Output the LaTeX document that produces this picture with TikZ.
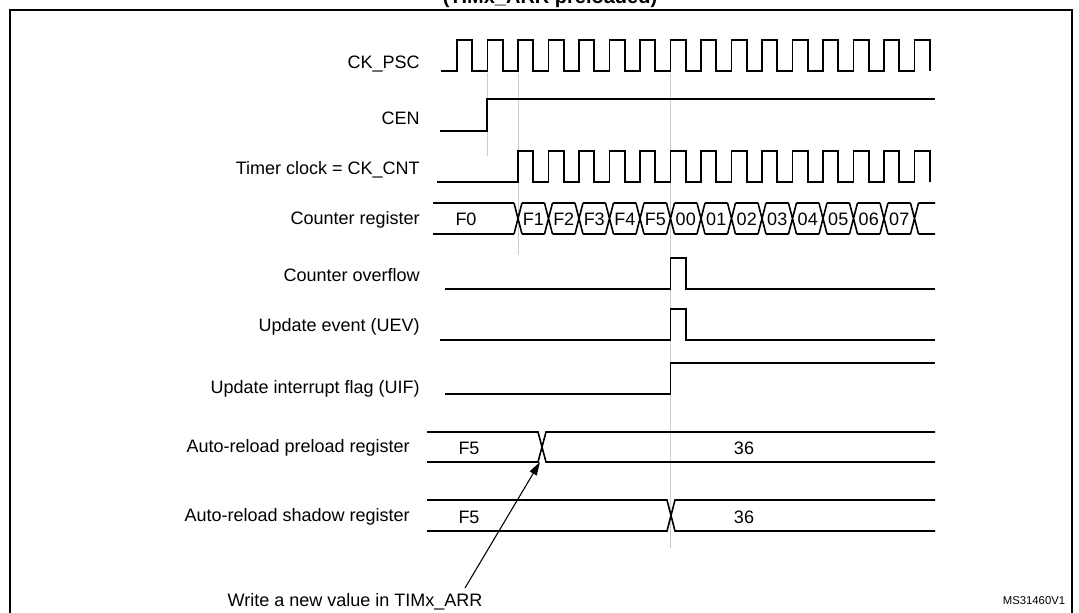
\documentclass[tikz,border=0pt]{standalone}
\usepackage{fontspec}
\setmainfont{Liberation Sans}
\usetikzlibrary{positioning,arrows.meta}

\begin{document}
\begin{tikzpicture}[x=0.75pt,y=-0.75pt,
    sig/.style={line width=1.2pt},
    guide/.style={gray!40,line width=0.6pt},
    lbl/.style={anchor=east,font=\fontsize{13.5}{15}\selectfont,inner sep=0pt},
    val/.style={font=\fontsize{13.5}{15}\selectfont,inner sep=0pt}]
  \useasboundingbox (0,0) rectangle (1079,612);
  % frame and clipped title
  \node[font=\bfseries\fontsize{15}{17}\selectfont] (title) at (550,-2) {(TIMx\_ARR preloaded)};
  \draw[line width=1.2pt] (10,640) -- (10,10) -- (1072,10) -- (1072,640);
  % guide lines
  \draw[guide] (487,73) -- (487,156);
  \draw[guide] (518,73) -- (518,255);
  \draw[guide] (670.5,73) -- (670.5,548);
  % labels
  \node[lbl] (psc) at (420,64) {CK\_PSC};
  \node[lbl] (cen) at (420,118) {CEN};
  \node[lbl] (cnt) at (420,170) {Timer clock = CK\_CNT};
  \node[lbl] (reg) at (420,220) {Counter register};
  \node[lbl] (ovf) at (420,275) {Counter overflow};
  \node[lbl] (uev) at (420,327) {Update event (UEV)};
  \node[lbl] (uif) at (420,389) {Update interrupt flag (UIF)};
  \node[lbl] (pre) at (410,448) {Auto-reload preload register};
  \node[lbl] (shd) at (410,517) {Auto-reload shadow register};
  % CK_PSC
  \draw[sig] (441,71) -- (457,71)
    \foreach \k in {1,...,15}{ -- ++(0,-31) -- ++(15.25,0) -- ++(0,31) -- ++(15.25,0) }
    -- ++(0,-31) -- ++(15.25,0) -- ++(0,31);
  % CEN
  \draw[sig] (440,131) -- (487,131) -- (487,99) -- (935,99);
  % CK_CNT
  \draw[sig] (437,182) -- (518,182)
    \foreach \k in {1,...,13}{ -- ++(0,-31) -- ++(15.25,0) -- ++(0,31) -- ++(15.25,0) }
    -- ++(0,-31) -- ++(15.25,0) -- ++(0,31);
  % counter register
  \draw[sig] (433,203) -- (514,203) (433,234) -- (514,234);
  \node[val] (f0) at (466,219) {F0};
  \foreach \k/\v in {0/F1,1/F2,2/F3,3/F4,4/F5,5/00,6/01,7/02,8/03,9/04,10/05,11/06,12/07,13/{}}{
    \pgfmathsetmacro\xa{518+30.5*\k}
    \pgfmathsetmacro\xb{\k==13 ? 935 : \xa+26.5}
    \draw[sig] (\xa-4,203) -- (\xa+4,234) (\xa-4,234) -- (\xa+4,203)
      (\xa+4,203) -- (\xb,203) (\xa+4,234) -- (\xb,234);
    \node[val] at (\xa+15.25,219) {\v};
  }
  % overflow, UEV, UIF
  \draw[sig] (445,289) -- (670.5,289) -- (670.5,258) -- (686,258) -- (686,289) -- (935,289);
  \draw[sig] (440,340) -- (670.5,340) -- (670.5,309) -- (686,309) -- (686,340) -- (935,340);
  \draw[sig] (445,394) -- (670.5,394) -- (670.5,363) -- (935,363);
  % preload register
  \draw[sig] (427,432) -- (538,432) -- (546,462) -- (935,462)
             (427,462) -- (538,462) -- (546,432) -- (935,432);
  \node[val] (pf5) at (469,448) {F5};
  \node[val] (p36) at (744,448) {36};
  % shadow register
  \draw[sig] (427,500) -- (667,500) -- (675,531) -- (935,531)
             (427,531) -- (667,531) -- (675,500) -- (935,500);
  \node[val] (sf5) at (469,517) {F5};
  \node[val] (s36) at (744,517) {36};
  % note
  \node[val] (note) at (355,602) {Write a new value in TIMx\_ARR};
  \coordinate (tail) at (465,588);
  \coordinate (tip) at (540,462);
  \draw[line width=0.8pt,-{Triangle[length=10pt,width=6pt]}] (tail) -- (tip);
  \node[font=\fontsize{8.5}{10}\selectfont,inner sep=0pt] (ms) at (1034,601) {MS31460V1};
\end{tikzpicture}
\end{document}
